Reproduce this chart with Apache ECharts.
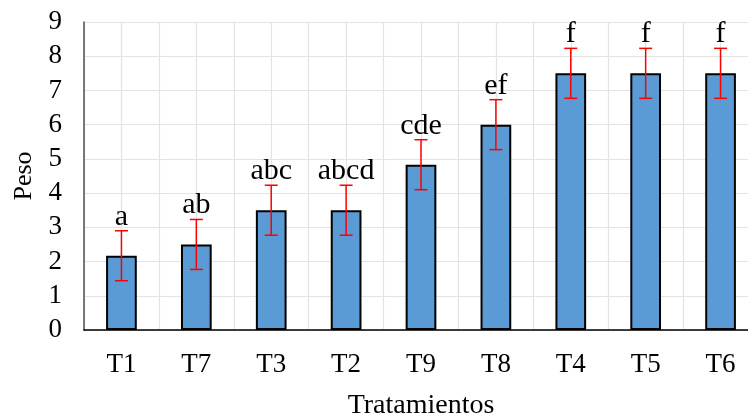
<!DOCTYPE html>
<html><head><meta charset="utf-8">
<script src="https://cdn.jsdelivr.net/npm/echarts@6/dist/echarts.min.js"></script>
<style>html,body{margin:0;padding:0;background:#fff}#c{width:748px;height:415px}</style>
</head><body><div id="c"></div>
<script>
var categories = ['T1','T7','T3','T2','T9','T8','T4','T5','T6'];
var values = [2.17, 2.5, 3.5, 3.5, 4.83, 6.0, 7.5, 7.5, 7.5];
var errors = [0.73, 0.73, 0.73, 0.73, 0.73, 0.73, 0.73, 0.73, 0.73];
var letters = ['a','ab','abc','abcd','cde','ef','f','f','f'];
var yTicks = [0,1,2,3,4,5,6,7,8,9];

var font = 'Liberation Serif, Times New Roman, serif';
var errData = categories.map(function(c,i){return [i, values[i]-errors[i], values[i]+errors[i]];});

var chart = echarts.init(document.getElementById('c'), null, {renderer:'canvas'});
chart.setOption({
  animation:false,
  grid:{left:84, right:-10, top:22, bottom:85, containLabel:false, outerBoundsMode:'none'},
  xAxis:[{
    type:'category', data:categories,
    axisLine:{lineStyle:{color:'#000', width:1.5}},
    axisTick:{show:false},
    axisLabel:{fontFamily:font, fontSize:27, color:'#000', margin:21},
    splitLine:{show:false},
    name:'Tratamientos', nameLocation:'middle', nameGap:62,
    nameTextStyle:{fontFamily:font, fontSize:28, color:'#000'}
  },{
    type:'value', min:0, max:18, interval:1, show:true,
    axisLine:{show:false}, axisTick:{show:false}, axisLabel:{show:false},
    splitLine:{show:true, lineStyle:{color:'#e3e3e3', width:1.2}}
  }],
  yAxis:{
    type:'value', min:0, max:9, interval:1,
    axisLine:{show:true, lineStyle:{color:'#5a5a5a', width:1.6}},
    axisTick:{show:false},
    axisLabel:{fontFamily:font, fontSize:27, color:'#000', margin:22,
      formatter:function(v){return yTicks.indexOf(v)>=0?String(v):'';}},
    splitLine:{lineStyle:{color:'#e3e3e3', width:1.2}},
    name:'Peso', nameLocation:'middle', nameGap:47,
    nameTextStyle:{fontFamily:font, fontSize:26, color:'#000'}
  },
  series:[{
    type:'bar', data:values, barWidth:'41%', xAxisIndex:0,
    itemStyle:{color:'#5B9BD5', borderColor:'#000', borderWidth:2},
    z:2
  },{
    type:'custom', data:errData, xAxisIndex:0, z:3,
    renderItem:function(params, api){
      var x = api.coord([api.value(0), 0])[0];
      var lo = api.coord([api.value(0), api.value(1)])[1];
      var hi = api.coord([api.value(0), api.value(2)])[1];
      var hw = 6.5;
      var st = {stroke:'#ff0000', lineWidth:1.5};
      return {type:'group', children:[
        {type:'line', shape:{x1:x,y1:lo,x2:x,y2:hi}, style:st},
        {type:'line', shape:{x1:x-hw,y1:lo,x2:x+hw,y2:lo}, style:st},
        {type:'line', shape:{x1:x-hw,y1:hi,x2:x+hw,y2:hi}, style:st},
        {type:'text', x:x, y:hi+1, style:{text:letters[params.dataIndex], fill:'#000',
          font:'30px ' + font, textAlign:'center', textVerticalAlign:'bottom'}}
      ]};
    }
  }]
});
</script></body></html>
